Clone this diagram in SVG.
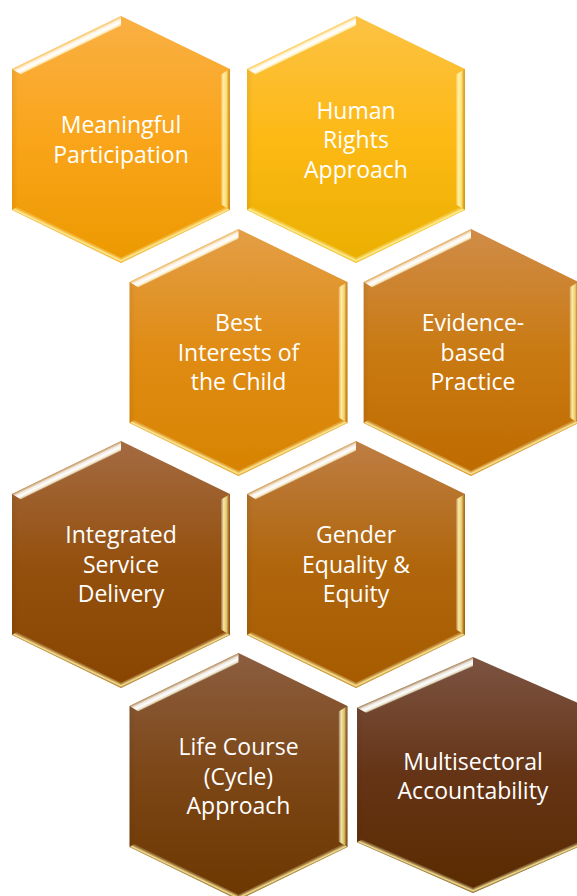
<svg xmlns="http://www.w3.org/2000/svg" width="577" height="896" viewBox="0 0 577 896">
  <style>
    .lbl { font-family: "Open Sans", "Noto Sans", "Liberation Sans", sans-serif; font-size: 23px; fill: #FFFFFF; text-anchor: middle; }
  </style>
  <defs>
    <linearGradient id="g1" x1="0" y1="0" x2="0" y2="1"><stop offset="0" stop-color="#F9B044"/><stop offset="0.5" stop-color="#FAA51A"/><stop offset="1" stop-color="#EC9900"/></linearGradient>
    <linearGradient id="g2" x1="0" y1="0" x2="0" y2="1"><stop offset="0" stop-color="#FCC244"/><stop offset="0.5" stop-color="#FDB914"/><stop offset="1" stop-color="#EAAF00"/></linearGradient>
    <linearGradient id="g3" x1="0" y1="0" x2="0" y2="1"><stop offset="0" stop-color="#E39E46"/><stop offset="0.5" stop-color="#E08C14"/><stop offset="1" stop-color="#D78300"/></linearGradient>
    <linearGradient id="g4" x1="0" y1="0" x2="0" y2="1"><stop offset="0" stop-color="#D08C48"/><stop offset="0.5" stop-color="#C97A12"/><stop offset="1" stop-color="#BE6B00"/></linearGradient>
    <linearGradient id="g5" x1="0" y1="0" x2="0" y2="1"><stop offset="0" stop-color="#A46B42"/><stop offset="0.5" stop-color="#94500E"/><stop offset="1" stop-color="#884400"/></linearGradient>
    <linearGradient id="g6" x1="0" y1="0" x2="0" y2="1"><stop offset="0" stop-color="#BE7E44"/><stop offset="0.5" stop-color="#B0660C"/><stop offset="1" stop-color="#A65B00"/></linearGradient>
    <linearGradient id="g7" x1="0" y1="0" x2="0" y2="1"><stop offset="0" stop-color="#8C5E40"/><stop offset="0.5" stop-color="#7C4616"/><stop offset="1" stop-color="#6C3700"/></linearGradient>
    <linearGradient id="g8" x1="0" y1="0" x2="0" y2="1"><stop offset="0" stop-color="#7C5442"/><stop offset="0.5" stop-color="#653416"/><stop offset="1" stop-color="#5A2B00"/></linearGradient>

    <linearGradient id="bTL" gradientUnits="userSpaceOnUse" x1="-54.5" y1="-97" x2="-50.57" y2="-88.9">
      <stop offset="0" stop-color="#FFE9A0" stop-opacity="0.35"/>
      <stop offset="0.3" stop-color="#FFFFFF" stop-opacity="0.85"/>
      <stop offset="0.6" stop-color="#FFFFFF" stop-opacity="1"/>
      <stop offset="0.85" stop-color="#FFFFE0" stop-opacity="0.8"/>
      <stop offset="1" stop-color="#FFFFFF" stop-opacity="0.1"/>
    </linearGradient>
    <linearGradient id="bR" gradientUnits="userSpaceOnUse" x1="100" y1="0" x2="109" y2="0">
      <stop offset="0" stop-color="#FFFFFF" stop-opacity="0.15"/>
      <stop offset="0.3" stop-color="#FFFAB0" stop-opacity="0.9"/>
      <stop offset="0.65" stop-color="#FFEE90" stop-opacity="0.7"/>
      <stop offset="1" stop-color="#8A5000" stop-opacity="0.25"/>
    </linearGradient>
    <linearGradient id="bBR" gradientUnits="userSpaceOnUse" x1="54.5" y1="97" x2="52.1" y2="92">
      <stop offset="0" stop-color="#FFE080" stop-opacity="0.4"/>
      <stop offset="0.3" stop-color="#FFF5A8" stop-opacity="0.9"/>
      <stop offset="0.65" stop-color="#FFF0A0" stop-opacity="0.35"/>
      <stop offset="1" stop-color="#FFFFFF" stop-opacity="0"/>
    </linearGradient>
    <linearGradient id="bBL" gradientUnits="userSpaceOnUse" x1="-54.5" y1="97" x2="-52.1" y2="92">
      <stop offset="0" stop-color="#FFE080" stop-opacity="0.4"/>
      <stop offset="0.3" stop-color="#FFF5A8" stop-opacity="0.9"/>
      <stop offset="0.65" stop-color="#FFF0A0" stop-opacity="0.35"/>
      <stop offset="1" stop-color="#FFFFFF" stop-opacity="0"/>
    </linearGradient>
    <linearGradient id="bL" gradientUnits="userSpaceOnUse" x1="-109" y1="0" x2="-103" y2="0">
      <stop offset="0" stop-color="#000000" stop-opacity="0.06"/>
      <stop offset="1" stop-color="#000000" stop-opacity="0"/>
    </linearGradient>

    <polygon id="hex" points="0,-123.5 109,-70.5 109,70.5 0,123.5 -109,70.5 -109,-70.5"/>
    <g id="bevel">
      <polygon points="-109,-70.5 -109,70.5 -103,67.6 -103,-67.6" fill="url(#bL)"/>
      <polygon points="-109,-70.5 0,-123.5 0,-113.5 -100,-64.9" fill="url(#bTL)"/>
      <polygon points="109,-70.5 109,70.5 100,64.9 100,-64.9" fill="url(#bR)"/>
      <polygon points="109,70.5 0,123.5 0,117.9 104,67.3" fill="url(#bBR)"/>
      <polygon points="-109,70.5 0,123.5 0,117.9 -104,67.3" fill="url(#bBL)"/>
    </g>
  </defs>

  <rect width="577" height="896" fill="#FFFFFF"/>

  <g id="connectors"/>

  <g id="hex-meaningful-participation">
    <g transform="translate(121,139.5)"><use href="#hex" fill="url(#g1)"/><use href="#bevel"/></g>
    <text class="lbl" x="121" y="133">Meaningful</text>
    <text class="lbl" x="121" y="163">Participation</text>
  </g>

  <g id="hex-human-rights-approach">
    <g transform="translate(356,139.5)"><use href="#hex" fill="url(#g2)"/><use href="#bevel"/></g>
    <text class="lbl" x="356" y="119">Human</text>
    <text class="lbl" x="356" y="148">Rights</text>
    <text class="lbl" x="356" y="177.5">Approach</text>
  </g>

  <g id="hex-best-interests">
    <g transform="translate(238.5,352.5)"><use href="#hex" fill="url(#g3)"/><use href="#bevel"/></g>
    <text class="lbl" x="238.5" y="331">Best</text>
    <text class="lbl" x="238.5" y="360.5">Interests of</text>
    <text class="lbl" x="238.5" y="390">the Child</text>
  </g>

  <g id="hex-evidence-based-practice">
    <g transform="translate(471,352.5) scale(0.985,1)"><use href="#hex" fill="url(#g4)"/><use href="#bevel"/></g>
    <text class="lbl" x="473" y="331">Evidence-</text>
    <text class="lbl" x="473" y="360.5">based</text>
    <text class="lbl" x="473" y="390">Practice</text>
  </g>

  <g id="hex-integrated-service-delivery">
    <g transform="translate(121,564.5)"><use href="#hex" fill="url(#g5)"/><use href="#bevel"/></g>
    <text class="lbl" x="121" y="543">Integrated</text>
    <text class="lbl" x="121" y="573">Service</text>
    <text class="lbl" x="121" y="602">Delivery</text>
  </g>

  <g id="hex-gender-equality-equity">
    <g transform="translate(356,564.5)"><use href="#hex" fill="url(#g6)"/><use href="#bevel"/></g>
    <text class="lbl" x="356" y="542.5">Gender</text>
    <text class="lbl" x="356" y="573">Equality &amp;</text>
    <text class="lbl" x="356" y="602">Equity</text>
  </g>

  <g id="hex-life-course-approach">
    <g transform="translate(238.5,776.5)"><use href="#hex" fill="url(#g7)"/><use href="#bevel"/></g>
    <text class="lbl" x="238.5" y="755">Life Course</text>
    <text class="lbl" x="238.5" y="784.5">(Cycle)</text>
    <text class="lbl" x="238.5" y="813.5">Approach</text>
  </g>

  <g id="hex-multisectoral-accountability">
    <g transform="translate(473,775) scale(1.064,0.955)"><use href="#hex" fill="url(#g8)"/><use href="#bevel"/></g>
    <text class="lbl" x="473" y="769.5">Multisectoral</text>
    <text class="lbl" x="473" y="798.5">Accountability</text>
  </g>
</svg>
